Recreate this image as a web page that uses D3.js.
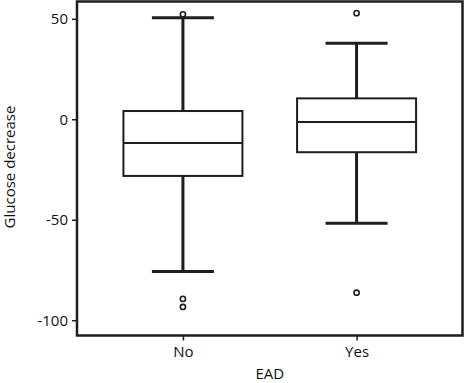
<!doctype html>
<html>
<head>
<meta charset="UTF-8">
<title>Glucose decrease by EAD</title>
<script src="https://cdn.jsdelivr.net/npm/d3@7"></script>
<style>
  body { margin: 0; background: #fff; }
  text { font-family: "Open Sans", sans-serif; fill: #111; }
</style>
</head>
<body>
<svg id="chart" width="464" height="383"></svg>
<script>
// values
var groups = ["No", "Yes"];
var q1 = [-28.2, -16.4];
var medians = [-11.8, -1.3];
var q3 = [4.1, 10.4];
var whiskerLow = [-75.8, -51.7];
var whiskerHigh = [50.5, 37.8];
var outliersNo = [52.2, -89.4, -93.4];
var outliersYes = [52.8, -86.3];
var yTicks = [50, 0, -50, -100];

var svg = d3.select("#chart"),
    plotLeft = 77, plotRight = 462.5, plotTop = 1.5, plotBottom = 335.5;

var x = d3.scalePoint().domain(groups).range([plotLeft, plotRight]).padding(0.61),
    y = d3.scaleLinear().domain([-107.6, 58.6]).range([plotBottom, plotTop]);

var boxW = 119, capW = 62;
var ink = "#1e1e1e";

var stats = groups.map(function(g, i) {
  return {
    name: g,
    q1: q1[i], med: medians[i], q3: q3[i],
    lo: whiskerLow[i], hi: whiskerHigh[i],
    out: i === 0 ? outliersNo : outliersYes
  };
});

// axes (ticks only, frame drawn separately)
var yAxis = svg.append("g")
  .attr("transform", "translate(" + plotLeft + ",0)")
  .call(d3.axisLeft(y).tickValues(yTicks).tickSize(5).tickPadding(4)
    .tickFormat(function(d) { return String(d); }));  // plain hyphen, not unicode minus
var xAxis = svg.append("g")
  .attr("transform", "translate(0," + plotBottom + ")")
  .call(d3.axisBottom(x).tickSize(5).tickPadding(6));
[yAxis, xAxis].forEach(function(a) {
  a.select(".domain").remove();
  a.selectAll("line").attr("stroke", ink).attr("stroke-width", 1.5);
  a.selectAll("text").style("font-size", "15px").attr("fill", "#111")
    .style("font-family", "'Open Sans', sans-serif");
});

// boxes
var box = svg.selectAll(".box").data(stats).enter().append("g").attr("class", "box");

// whiskers
box.append("line")
  .attr("x1", function(d) { return x(d.name); })
  .attr("x2", function(d) { return x(d.name); })
  .attr("y1", function(d) { return y(d.q3); })
  .attr("y2", function(d) { return y(d.hi); })
  .attr("stroke", ink).attr("stroke-width", 3);
box.append("line")
  .attr("x1", function(d) { return x(d.name); })
  .attr("x2", function(d) { return x(d.name); })
  .attr("y1", function(d) { return y(d.q1); })
  .attr("y2", function(d) { return y(d.lo); })
  .attr("stroke", ink).attr("stroke-width", 3);
["hi", "lo"].forEach(function(k) {
  box.append("line")
    .attr("x1", function(d) { return x(d.name) - capW / 2; })
    .attr("x2", function(d) { return x(d.name) + capW / 2; })
    .attr("y1", function(d) { return y(d[k]); })
    .attr("y2", function(d) { return y(d[k]); })
    .attr("stroke", ink).attr("stroke-width", 3);
});

box.append("rect")
  .attr("x", function(d) { return x(d.name) - boxW / 2; })
  .attr("y", function(d) { return y(d.q3); })
  .attr("width", boxW)
  .attr("height", function(d) { return y(d.q1) - y(d.q3); })
  .attr("fill", "#fff").attr("stroke", ink).attr("stroke-width", 2);

box.append("line")
  .attr("x1", function(d) { return x(d.name) - boxW / 2; })
  .attr("x2", function(d) { return x(d.name) + boxW / 2; })
  .attr("y1", function(d) { return y(d.med); })
  .attr("y2", function(d) { return y(d.med); })
  .attr("stroke", ink).attr("stroke-width", 2);

// outliers
box.selectAll("circle")
  .data(function(d) { return d.out.map(function(v) { return {name: d.name, v: v}; }); })
  .enter().append("circle")
  .attr("cx", function(d) { return x(d.name); })
  .attr("cy", function(d) { return y(d.v); })
  .attr("r", 2.6)
  .attr("fill", "#fff").attr("stroke", ink).attr("stroke-width", 1.6);

// frame
svg.append("rect")
  .attr("x", plotLeft).attr("y", plotTop)
  .attr("width", plotRight - plotLeft).attr("height", plotBottom - plotTop)
  .attr("fill", "none").attr("stroke", ink).attr("stroke-width", 2.5);

// axis titles
svg.append("text")
  .attr("transform", "translate(15,167) rotate(-90)")
  .attr("text-anchor", "middle")
  .style("font-size", "15px")
  .text("Glucose decrease");
svg.append("text")
  .attr("x", (plotLeft + plotRight) / 2)
  .attr("y", 379)
  .attr("text-anchor", "middle")
  .style("font-size", "15px")
  .text("EAD");
</script>
</body>
</html>
